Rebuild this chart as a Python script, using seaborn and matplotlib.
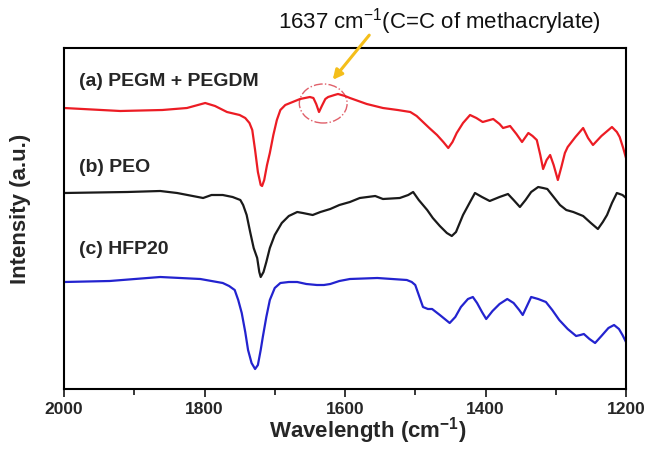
import matplotlib
matplotlib.use("Agg")
import matplotlib.pyplot as plt
from matplotlib.patches import Ellipse
import seaborn as sns
import pandas as pd

# ---- data ----
wn_a = [2000, 1920, 1860, 1825, 1799, 1785, 1768, 1750, 1742, 1736, 1732, 1728, 1724, 1720,
        1718, 1715, 1711, 1707, 1702, 1697, 1692, 1685, 1678, 1664, 1650, 1645, 1641, 1637,
        1633, 1628, 1624, 1615, 1610, 1600, 1593, 1569, 1546, 1525, 1507, 1498, 1489, 1480,
        1469, 1460, 1453, 1447, 1441, 1432, 1422, 1413, 1404, 1389, 1380, 1375, 1365, 1356,
        1348, 1343, 1339, 1333, 1327, 1322, 1318, 1313, 1308, 1303, 1297, 1292, 1287, 1283,
        1272, 1261, 1254, 1247, 1235, 1220, 1213, 1209, 1204, 1200]
int_a = [292, 289, 290, 292, 297, 294, 288, 285, 282, 277, 270, 250, 228, 215,
         214, 220, 235, 247, 265, 280, 290, 295, 297, 301, 303, 302, 296, 288,
         294, 301, 303, 305, 306, 304, 302, 296, 292, 290, 288, 284, 278, 272,
         265, 258, 252, 258, 267, 277, 285, 282, 278, 281, 276, 272, 274, 266,
         258, 263, 267, 264, 260, 245, 231, 240, 245, 235, 220, 233, 247, 253,
         263, 272, 262, 255, 264, 273, 268, 263, 252, 242]

wn_b = [2000, 1910, 1863, 1839, 1802, 1790, 1774, 1760, 1749, 1745, 1740, 1735, 1730, 1725,
        1722, 1720, 1716, 1712, 1707, 1700, 1690, 1680, 1668, 1660, 1646, 1635, 1621, 1608,
        1593, 1579, 1557, 1546, 1522, 1510, 1503, 1495, 1483, 1475, 1465, 1455, 1448, 1442,
        1432, 1422, 1415, 1405, 1394, 1380, 1368, 1360, 1351, 1343, 1335, 1325, 1318, 1312,
        1303, 1294, 1285, 1275, 1261, 1250, 1240, 1233, 1227, 1220, 1213, 1205, 1200]
int_b = [207, 208, 209, 207, 202, 205, 205, 203, 200, 195, 185, 168, 152, 142,
         128, 123, 128, 138, 152, 165, 177, 184, 188, 187, 185, 188, 191, 195,
         198, 202, 204, 201, 202, 205, 208, 200, 190, 182, 174, 167, 164, 168,
         185, 198, 207, 203, 199, 203, 206, 200, 193, 200, 208, 213, 212, 211,
         203, 195, 190, 188, 184, 177, 171, 178, 185, 197, 207, 205, 202]

wn_c = [2000, 1935, 1863, 1806, 1774, 1765, 1757, 1752, 1747, 1742, 1738, 1733, 1728, 1724,
        1720, 1717, 1712, 1707, 1700, 1692, 1680, 1668, 1655, 1640, 1630, 1621, 1608, 1593,
        1554, 1512, 1505, 1500, 1494, 1489, 1482, 1476, 1465, 1458, 1451, 1443, 1435, 1425,
        1418, 1412, 1405, 1399, 1390, 1380, 1369, 1360, 1352, 1347, 1341, 1335, 1325, 1314,
        1305, 1295, 1283, 1271, 1265, 1260, 1252, 1244, 1235, 1225, 1217, 1210, 1205, 1200]
int_c = [118, 119, 123, 121, 117, 114, 110, 100, 87, 68, 50, 37, 31, 35,
         50, 63, 83, 100, 112, 117, 118, 118, 116, 115, 115, 116, 119, 121,
         122, 120, 118, 115, 103, 93, 91, 91, 85, 81, 77, 83, 93, 101,
         103, 97, 88, 81, 89, 96, 101, 97, 90, 85, 94, 103, 101, 98,
         90, 80, 71, 64, 65, 66, 61, 57, 64, 72, 75, 71, 65, 58]

labels = ["(a) PEGM + PEGDM", "(b) PEO", "(c) HFP20"]
colors = ["#ec1c24", "#1a1a1a", "#2323cf"]

df = pd.concat([
    pd.DataFrame({"wn": wn_a, "I": int_a, "s": labels[0]}),
    pd.DataFrame({"wn": wn_b, "I": int_b, "s": labels[1]}),
    pd.DataFrame({"wn": wn_c, "I": int_c, "s": labels[2]}),
])

sns.set_style("ticks")
plt.rcParams["font.family"] = ["Liberation Sans", "DejaVu Sans"]
plt.rcParams["mathtext.fontset"] = "custom"
plt.rcParams["mathtext.rm"] = "Liberation Sans"
plt.rcParams["mathtext.bf"] = "Liberation Sans:bold"

fig = plt.figure(figsize=(6.47, 4.61), dpi=100)
ax = fig.add_axes([64 / 647, 72 / 461, 562 / 647, 341 / 461])

sns.lineplot(data=df, x="wn", y="I", hue="s", palette=colors, ax=ax,
             legend=False, linewidth=1.6, estimator=None)
for ln in ax.lines:
    ln.set_solid_joinstyle("round")

ax.set_xlim(2000, 1200)
ax.set_ylim(11, 352)
ax.set_xticks([2000, 1800, 1600, 1400, 1200])
ax.set_xticks([1900, 1700, 1500, 1300], minor=True)
ax.set_yticks([])
ax.tick_params(axis="x", which="major", direction="out", length=6, width=1.3,
               labelsize=12.5, pad=3)
ax.tick_params(axis="x", which="minor", direction="out", length=4, width=1.3)
for lab in ax.get_xticklabels():
    lab.set_fontweight("bold")
for sp in ax.spines.values():
    sp.set_linewidth(1.5)
    sp.set_color("black")

ax.set_xlabel(r"Wavelength (cm$\mathbf{^{-1}}$)", fontsize=16, fontweight="bold")
ax.xaxis.set_label_coords(0.54, -0.078)
ax.set_ylabel("Intensity (a.u.)", fontsize=16, fontweight="bold")
ax.yaxis.set_label_coords(-0.058, 0.528)

# curve labels
ax.text(1979, 318, labels[0], fontsize=14, fontweight="bold", va="center", ha="left")
ax.text(1979, 233, labels[1], fontsize=14, fontweight="bold", va="center", ha="left")
ax.text(1979, 150, labels[2], fontsize=14, fontweight="bold", va="center", ha="left")

# highlight of 1637 peak
ax.add_patch(Ellipse((1631, 296.5), 68, 39, fill=False, edgecolor="#e0606a",
                     linestyle="-.", linewidth=1.0))
ax.annotate("", xy=(1620, 318), xytext=(1563, 367), xycoords="data",
            textcoords="data", annotation_clip=False,
            arrowprops=dict(arrowstyle="-|>", color="#f4be1a", lw=2.2,
                            mutation_scale=14))
ax.text(1465, 378, r"1637 cm$^{-1}$(C=C of methacrylate)", fontsize=16,
        ha="center", va="center", color="#111111", clip_on=False)

fig.savefig("out.png", dpi=100)
